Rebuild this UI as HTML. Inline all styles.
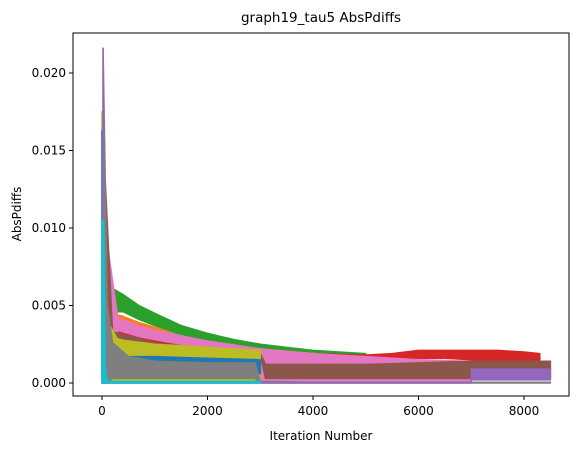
<!DOCTYPE html>
<html><head><meta charset="utf-8"><style>
body{margin:0;background:#fff;width:585px;height:453px;overflow:hidden;font-family:"Liberation Sans","DejaVu Sans",sans-serif}
svg text{font-family:"DejaVu Sans","Liberation Sans",sans-serif}
</style></head><body>
<svg id="chart" width="585" height="453" viewBox="0 0 585 453" xmlns="http://www.w3.org/2000/svg">
<rect width="585" height="453" fill="#fff"/>
<text x="321" y="22" font-size="13.5" text-anchor="middle">graph19_tau5 AbsPdiffs</text>
<g id="marks"></g>
<rect x="73" y="33" width="496" height="363" fill="none" stroke="#000" stroke-width="1"/>
<g id="axes"></g>
<text x="321" y="440" font-size="12" text-anchor="middle">Iteration Number</text>
<text transform="translate(21,214) rotate(-90)" font-size="12" text-anchor="middle">AbsPdiffs</text>
</svg>
<script>
const xTicks=[0,2000,4000,6000,8000];
const yTicks=[0,0.005,0.010,0.015,0.020];
const yTickLabels=["0.000","0.005","0.010","0.015","0.020"];
const seriesNames=["green","orange","red","pink","brown","olive","blue","gray","purple","cyan"];
const greenX=[40,100,200,400,700,1000,1500,2000,2500,3000,3500,4000,4500,5000];
const greenUp=[0.012,0.0075,0.0061,0.0057,0.005,0.0045,0.0037,0.0032,0.0028,0.0025,0.0023,0.0021,0.002,0.0019];
const greenLo=[0,0.0045,0.0046,0.0046,0.0041,0.0037,0.0031,0.0028,0.0025,0.0023,0.0021,0.002,0.0019,0.0018];
const orangeX=[40,200,400,700,1000,1500,2000,3000,4000];
const orangeUp=[0.01,0.0045,0.0043,0.0039,0.0036,0.003,0.0027,0.0022,0.0019];
const orangeLo=[0,0.0038,0.0036,0.0033,0.0031,0.0027,0.0025,0.002,0.0017];
const redX=[200,1000,2000,3000,4000,5000,5500,6000,6500,7000,7500,8000,8300];
const redUp=[0.0037,0.0031,0.0025,0.0021,0.0019,0.0018,0.0019,0.0021,0.0021,0.0021,0.0021,0.002,0.0019];
const redLo=[0.003,0.0026,0.0021,0.0017,0.0016,0.0016,0.0016,0.0016,0.0016,0.0015,0.0015,0.0015,0.0015];
const pinkX=[100,300,700,1000,2000,3000,3001,4000,5000,6000,7000];
const pinkUp=[0.009,0.0042,0.0037,0.0034,0.0027,0.0022,0.0022,0.0019,0.0017,0.0015,0.0014];
const pinkLo=[0,0.0034,0.003,0.0028,0.0022,0.0019,0.0001,0.0001,0.0001,0.0001,0.0001];
const brownX=[60,200,1000,2000,3000,3100,4000,5000,6000,7000,8000,8500];
const brownUp=[0.0131,0.0033,0.0026,0.0022,0.0019,0.0012,0.0012,0.0012,0.0013,0.0014,0.0014,0.0014];
const brownLo=[0,0.003,0.0024,0.0021,0.0018,0.0003,0.0003,0.0003,0.0003,0.0003,0.0003,0.0003];
const oliveX=[0,50,100,300,1000,2000,3000];
const oliveUp=[0.0175,0.012,0.004,0.0028,0.0025,0.0023,0.0021];
const oliveLo=[0,0,0,0,0,0,0];
const blueX=[0,40,100,300,1000,2000,3000];
const blueUp=[0.0163,0.0163,0.003,0.0017,0.0017,0.0016,0.0015];
const blueLo=[0,0,0,0.0008,0.0009,0.0008,0.0006];
const grayX=[20,100,200,500,1000,2000,2900,3000,4000,8500];
const grayUp=[0.0216,0.005,0.0026,0.0017,0.0014,0.0013,0.0013,0.0001,0.00005,0.00005];
const grayLo=[0,0,0.0003,0.0003,0.0003,0.0003,0.0003,0,0,0];
const purpleX=[10,20,30,7000,7001,8500];
const purpleUp=[0,0.0216,0,0,0.0009,0.0009];
const purpleLo=[0,0,0,0,0.0002,0.0002];
const cyanX=[0,30,60,100,3000];
const cyanUp=[0.0105,0.0105,0.001,0.0001,0.0001];
const cyanLo=[0,0,0,0,0];

const colors={green:"#2ca02c",orange:"#ff7f0e",red:"#d62728",pink:"#e377c2",brown:"#8c564b",olive:"#bcbd22",blue:"#1f77b4",gray:"#7f7f7f",purple:"#9467bd",cyan:"#17becf"};
const data={green:[greenX,greenUp,greenLo],orange:[orangeX,orangeUp,orangeLo],red:[redX,redUp,redLo],pink:[pinkX,pinkUp,pinkLo],brown:[brownX,brownUp,brownLo],olive:[oliveX,oliveUp,oliveLo],blue:[blueX,blueUp,blueLo],gray:[grayX,grayUp,grayLo],purple:[purpleX,purpleUp,purpleLo],cyan:[cyanX,cyanUp,cyanLo]};
function sx(v){return 102+v*0.05275;}
function sy(v){return 383-v*15500;}
const NS="http://www.w3.org/2000/svg";
const marks=document.getElementById('marks');
seriesNames.forEach(n=>{
  const [xs,up,lo]=data[n];
  let pts=xs.map((x,i)=>sx(x).toFixed(1)+","+sy(up[i]).toFixed(1));
  for(let i=xs.length-1;i>=0;i--)pts.push(sx(xs[i]).toFixed(1)+","+sy(lo[i]).toFixed(1));
  const p=document.createElementNS(NS,'polygon');
  p.setAttribute('points',pts.join(' '));
  p.setAttribute('fill',colors[n]);
  p.setAttribute('stroke',colors[n]);
  p.setAttribute('stroke-width','1.5');
  p.setAttribute('stroke-linejoin','round');
  
  
  marks.appendChild(p);
});
const axes=document.getElementById('axes');
xTicks.forEach(t=>{
  const l=document.createElementNS(NS,'line');
  l.setAttribute('x1',sx(t));l.setAttribute('x2',sx(t));l.setAttribute('y1',396);l.setAttribute('y2',400);l.setAttribute('stroke','#000');
  
  
  axes.appendChild(l);
  const tx=document.createElementNS(NS,'text');
  tx.setAttribute('x',sx(t));tx.setAttribute('y',415);tx.setAttribute('font-size','12');tx.setAttribute('text-anchor','middle');
  tx.textContent=String(t);
  
  
  axes.appendChild(tx);
});
yTicks.forEach((t,i)=>{
  const l=document.createElementNS(NS,'line');
  l.setAttribute('x1',69);l.setAttribute('x2',73);l.setAttribute('y1',sy(t));l.setAttribute('y2',sy(t));l.setAttribute('stroke','#000');
  
  
  axes.appendChild(l);
  const tx=document.createElementNS(NS,'text');
  tx.setAttribute('x',66);tx.setAttribute('y',sy(t)+4);tx.setAttribute('font-size','12');tx.setAttribute('text-anchor','end');
  tx.textContent=yTickLabels[i];
  
  
  axes.appendChild(tx);
});
</script>
</body></html>
